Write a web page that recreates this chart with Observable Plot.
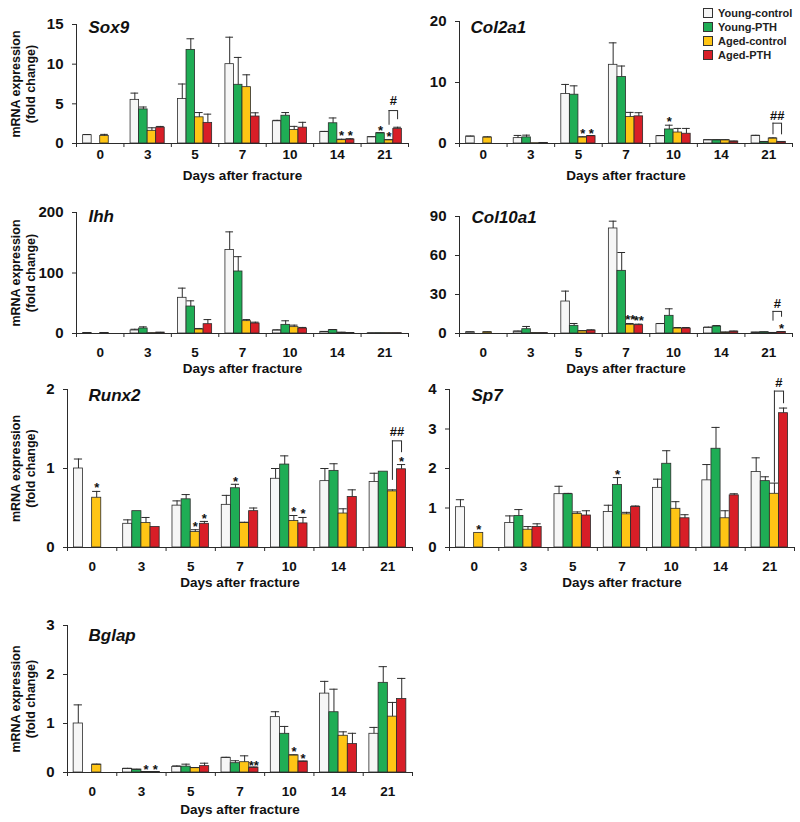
<!DOCTYPE html>
<html>
<head>
<meta charset="utf-8">
<script src="https://cdn.jsdelivr.net/npm/d3@7"></script>
<script src="https://cdn.jsdelivr.net/npm/@observablehq/plot@0.6"></script>
<style>
  body { margin: 0; background: #fff; }
  #root { position: relative; width: 800px; height: 822px; overflow: hidden; background: #fff;
          font-family: "Liberation Sans", Arial, sans-serif; }
  .panel { position: absolute; }
  .panel svg { max-width: none; background: transparent; overflow: visible; }
  #legend { position: absolute; left: 703px; top: 6px; font: bold 11px "Liberation Sans", Arial, sans-serif; color: #222; }
  #legend .row { display: flex; align-items: center; height: 14px; }
  #legend .sw { width: 8px; height: 8px; border: 1px solid #333; margin-right: 5px; box-sizing: content-box; }
</style>
</head>
<body>
<div id="root"><div id="legend"></div></div>
<script>
// ---------------- data ----------------
const days = ["0", "3", "5", "7", "10", "14", "21"];
const groups = ["Young-control", "Young-PTH", "Aged-control", "Aged-PTH"];
const groupColors = ["#f6f6f6", "#1fad55", "#ffc515", "#d81e27"];
const yLabelLines = ["mRNA expression", "(fold change)"];
const xTitle = "Days after fracture";

// rows: Young-control, Young-PTH, Aged-control, Aged-PTH ; columns: days
const sox9Mean = [
  [1.05, 5.5, 5.6, 10.0, 2.8, 1.47, 0.8],
  [null, 4.3, 11.8, 7.4, 3.5, 2.55, 1.3],
  [0.95, 1.6, 3.3, 7.1, 1.7, 0.42, 0.42],
  [null, 2.0, 2.6, 3.4, 2.0, 0.5, 1.85]];
const sox9Err = [
  [0.08, 0.85, 1.9, 3.4, 0.12, 0.05, 0.05],
  [0, 0.3, 1.4, 3.45, 0.4, 0.67, 0.05],
  [0.2, 0.38, 0.6, 1.56, 0.46, 0.12, 0.05],
  [0, 0.15, 1.1, 0.47, 0.67, 0.1, 0.2]];
const sox9Ticks = [0, 5, 10, 15];
const sox9Stars = [["14", "Aged-control", 1.42, "*"], ["14", "Aged-PTH", 1.42, "*"],
  ["21", "Young-PTH", 2.14, "*"], ["21", "Aged-control", 1.3, "*"]];
const sox9Brackets = [["21", "Aged-control", "Aged-PTH", 2.3, 3.0, 4.15, "#", 5.33]];

const col2a1Mean = [
  [1.15, 0.88, 8.13, 12.9, 1.2, 0.55, 1.26],
  [null, 1.0, 8.0, 10.9, 2.3, 0.55, 0.27],
  [0.99, 0.05, 1.0, 4.34, 1.8, 0.55, 0.82],
  [null, 0.1, 1.2, 4.45, 1.6, 0.33, 0.27]];
const col2a1Err = [
  [0.05, 0.44, 1.55, 3.6, 0.1, 0.05, 0.08],
  [0, 0.37, 1.45, 1.8, 0.7, 0.05, 0.03],
  [0.1, 0, 0.1, 0.76, 0.67, 0.05, 0.1],
  [0, 0, 0.1, 0.6, 0.87, 0.05, 0.03]];
const col2a1Ticks = [0, 10, 20];
const col2a1Stars = [["5", "Aged-control", 2.25, "*"], ["5", "Aged-PTH", 2.25, "*"],
  ["10", "Young-PTH", 4.2, "*"]];
const col2a1Brackets = [["21", "Aged-control", "Aged-PTH", 1.42, 1.42, 3.33, "##", 4.6]];

const ihhMean = [
  [1, 5, 59, 138, 5, 2.8, 0.5],
  [null, 8.3, 44.6, 102.5, 14.3, 5.5, 0.5],
  [1, 0.5, 6.6, 20.4, 10.5, 1.5, 0.5],
  [null, 1.5, 15.4, 16.5, 8.3, 0.8, 0.5]];
const ihhErr = [
  [0.3, 2, 16, 30, 1, 0.5, 0.2],
  [0, 2.7, 9.4, 24.5, 6.7, 1.1, 0.2],
  [0.3, 0.2, 1.7, 2.6, 3.3, 0.3, 0.2],
  [0, 0.3, 7.6, 2.2, 1.7, 0.3, 0.2]];
const ihhTicks = [0, 100, 200];
const ihhStars = [];
const ihhBrackets = [];

const col10a1Mean = [
  [1, 1.5, 24.6, 80.8, 7.2, 4.4, 0.8],
  [null, 3.3, 5.9, 48.2, 13.6, 5.4, 1.0],
  [1, 0.3, 1.8, 6.7, 3.8, 0.8, 0.5],
  [null, 0.3, 2.3, 6.4, 3.8, 1.5, 1.2]];
const col10a1Err = [
  [0.2, 0.3, 8, 5.6, 0.5, 0.5, 0.1],
  [0, 2.1, 1.8, 14.1, 5.4, 0.7, 0.1],
  [0.2, 0.1, 0.3, 1.0, 0.8, 0.2, 0.1],
  [0, 0.1, 0.5, 0.8, 0.8, 0.3, 0.2]];
const col10a1Ticks = [0, 30, 60, 90];
const col10a1Stars = [["7", "Aged-control", 13.8, "**"], ["7", "Aged-PTH", 13.0, "**"],
  ["21", "Aged-PTH", 7, "*"]];
const col10a1Brackets = [["21", "Aged-control", "Aged-PTH", 9.5, 12.5, 17, "#", 23]];

const runx2Mean = [
  [1.0, 0.3, 0.53, 0.54, 0.87, 0.84, 0.83],
  [null, 0.46, 0.61, 0.75, 1.05, 0.97, 0.96],
  [0.63, 0.31, 0.195, 0.31, 0.335, 0.43, 0.71],
  [null, 0.26, 0.3, 0.46, 0.305, 0.64, 0.99]];
const runx2Err = [
  [0.12, 0.05, 0.06, 0.12, 0.13, 0.16, 0.11],
  [0, 0, 0.06, 0.05, 0.11, 0.09, 0],
  [0.08, 0.07, 0.03, 0.01, 0.07, 0.06, 0.02],
  [0, 0, 0.03, 0.04, 0.075, 0.09, 0.06]];
const runx2Ticks = [0, 1, 2];
const runx2Stars = [["0", "Aged-control", 0.81, "*"], ["5", "Aged-control", 0.31, "*"],
  ["5", "Aged-PTH", 0.41, "*"], ["7", "Young-PTH", 0.88, "*"], ["10", "Aged-control", 0.5, "*"],
  ["10", "Aged-PTH", 0.48, "*"], ["21", "Aged-PTH", 1.14, "*"]];
const runx2Brackets = [["21", "Aged-control", "Aged-PTH", 0.85, 1.2, 1.35, "##", 1.47]];

const sp7Mean = [
  [1.02, 0.62, 1.35, 0.9, 1.51, 1.7, 1.91],
  [null, 0.8, 1.35, 1.58, 2.12, 2.5, 1.68],
  [0.37, 0.45, 0.85, 0.84, 0.98, 0.74, 1.36],
  [null, 0.52, 0.81, 1.03, 0.74, 1.32, 3.4]];
const sp7Err = [
  [0.19, 0.18, 0.2, 0.17, 0.22, 0.4, 0.36],
  [0, 0.16, 0.02, 0.19, 0.33, 0.54, 0.11],
  [0, 0.08, 0.05, 0.05, 0.18, 0.19, 0.27],
  [0, 0.08, 0.12, 0.02, 0.09, 0.04, 0.13]];
const sp7Ticks = [0, 1, 2, 3, 4];
const sp7Stars = [["0", "Aged-control", 0.56, "*"], ["7", "Young-PTH", 1.95, "*"]];
const sp7Brackets = [["21", "Aged-control", "Aged-PTH", 1.65, 3.64, 3.96, "#", 4.17]];

const bglapMean = [
  [1.0, 0.075, 0.115, 0.3, 1.13, 1.61, 0.79],
  [null, 0.06, 0.12, 0.19, 0.79, 1.23, 1.83],
  [0.16, 0.01, 0.09, 0.21, 0.35, 0.75, 1.14],
  [null, 0.01, 0.13, 0.1, 0.225, 0.58, 1.5]];
const bglapErr = [
  [0.38, 0.01, 0.02, 0.01, 0.11, 0.25, 0.13],
  [0, 0.005, 0.05, 0.05, 0.15, 0.47, 0.33],
  [0.01, 0, 0.01, 0.13, 0.01, 0.08, 0.29],
  [0, 0, 0.06, 0.01, 0.005, 0.22, 0.42]];
const bglapTicks = [0, 1, 2, 3];
const bglapStars = [["3", "Aged-control", 0.13, "*"], ["3", "Aged-PTH", 0.13, "*"],
  ["7", "Aged-PTH", 0.21, "**"], ["10", "Aged-control", 0.51, "*"], ["10", "Aged-PTH", 0.36, "*"]];
const bglapBrackets = [];

// ---------------- layout (pixels) ----------------
const panels = [
  {title: "Sox9", mean: sox9Mean, err: sox9Err, ticks: sox9Ticks, stars: sox9Stars, brackets: sox9Brackets, showY: true,
   L: {left: 0, top: 0, width: 420, height: 190, x0: 76, x1: 408, yTop: 24, y0: 143, lab: 154, xt: 175, tdx: 12, tdy: 3, frac: 0.72}},
  {title: "Col2a1", mean: col2a1Mean, err: col2a1Err, ticks: col2a1Ticks, stars: col2a1Stars, brackets: col2a1Brackets, showY: false,
   L: {left: 420, top: 0, width: 380, height: 190, x0: 459, x1: 792, yTop: 21, y0: 143, lab: 154, xt: 175, tdx: 11, tdy: 6, frac: 0.72}},
  {title: "Ihh", mean: ihhMean, err: ihhErr, ticks: ihhTicks, stars: ihhStars, brackets: ihhBrackets, showY: true,
   L: {left: 0, top: 190, width: 420, height: 185, x0: 76, x1: 408, yTop: 212, y0: 333, lab: 352, xt: 368, tdx: 12, tdy: 4, frac: 0.72}},
  {title: "Col10a1", mean: col10a1Mean, err: col10a1Err, ticks: col10a1Ticks, stars: col10a1Stars, brackets: col10a1Brackets, showY: false,
   L: {left: 420, top: 190, width: 380, height: 185, x0: 459, x1: 792, yTop: 216, y0: 333, lab: 352, xt: 368, tdx: 12, tdy: 1, frac: 0.72}},
  {title: "Runx2", mean: runx2Mean, err: runx2Err, ticks: runx2Ticks, stars: runx2Stars, brackets: runx2Brackets, showY: true,
   L: {left: 0, top: 375, width: 420, height: 222, x0: 67, x1: 412, yTop: 389, y0: 547, lab: 566, xt: 582, tdx: 21, tdy: 6, frac: 0.74}},
  {title: "Sp7", mean: sp7Mean, err: sp7Err, ticks: sp7Ticks, stars: sp7Stars, brackets: sp7Brackets, showY: false,
   L: {left: 420, top: 375, width: 380, height: 222, x0: 449, x1: 794, yTop: 389, y0: 547, lab: 566, xt: 582, tdx: 22, tdy: 6, frac: 0.74}},
  {title: "Bglap", mean: bglapMean, err: bglapErr, ticks: bglapTicks, stars: bglapStars, brackets: bglapBrackets, showY: true,
   L: {left: 0, top: 600, width: 420, height: 222, x0: 67, x1: 412, yTop: 625, y0: 772, lab: 791, xt: 809, tdx: 21, tdy: 10, frac: 0.75}}
];

const ink = "#2b2b2b";
const root = document.getElementById("root");

function drawPanel(p) {
  const L = p.L;
  const f = L.frac, slot = f / groups.length;
  const xStart = (di, gi) => di + (1 - f) / 2 + gi * slot;
  const cx = (di, gi) => xStart(di, gi) + slot / 2;
  const rows = [];
  p.mean.forEach((arr, gi) => arr.forEach((v, di) => {
    if (v != null) rows.push({di, gi, group: groups[gi], v, e: p.err[gi][di],
      x1: xStart(di, gi), x2: xStart(di, gi) + slot, cx: cx(di, gi)});
  }));
  const errRows = rows.filter(r => r.e > 0);
  const capHalf = slot * 0.45;
  const stars = p.stars.map(([day, g, y, text]) => ({x: cx(days.indexOf(day), groups.indexOf(g)), y, text}));
  const brk = p.brackets.map(([day, ga, gb, ya, yb, yt, label, yl]) => ({
    xa: cx(days.indexOf(day), groups.indexOf(ga)), xb: cx(days.indexOf(day), groups.indexOf(gb)),
    ya, yb, yt, label, yl}));
  const legs = brk.flatMap(b => [{x: b.xa, y1: b.ya, y2: b.yt}, {x: b.xb, y1: b.yb, y2: b.yt}]);
  const yMax = p.ticks[p.ticks.length - 1];
  const fsX = 13.5;
  const labPad = L.lab - L.y0 - 0.36 * fsX;

  const marks = [
    Plot.rect(rows, {x1: "x1", x2: "x2", y1: () => 0, y2: "v", fill: "group", stroke: ink, strokeWidth: 0.8}),
    Plot.ruleX(errRows, {x: "cx", y1: "v", y2: d => d.v + d.e, stroke: ink, strokeWidth: 1}),
    Plot.ruleY(errRows, {y: d => d.v + d.e, x1: d => d.cx - capHalf, x2: d => d.cx + capHalf, stroke: ink, strokeWidth: 1}),
    Plot.ruleY([0], {stroke: ink, strokeWidth: 1}),
    Plot.ruleX([0], {y1: 0, y2: yMax, stroke: ink, strokeWidth: 1}),
    Plot.axisY({ticks: p.ticks, tickSize: 4, tickPadding: 9, tickFormat: d3.format("d"), label: null,
      fontSize: 15, fontWeight: "bold", stroke: ink}),
    Plot.axisX({ticks: d3.range(days.length + 1), tickSize: 4, tickFormat: () => "", label: null, stroke: ink}),
    Plot.axisX({ticks: days.map((d, i) => i + 0.5), tickSize: 0, tickPadding: labPad,
      tickFormat: t => days[Math.floor(t)], label: null, fontSize: fsX, fontWeight: "bold"}),
    Plot.text([xTitle], {frameAnchor: "bottom", dy: L.xt - L.y0, lineAnchor: "middle", fontSize: fsX, fontWeight: "bold", fill: "#111"}),
    Plot.text([p.title], {frameAnchor: "top-left", dx: L.tdx, dy: L.tdy, textAnchor: "start", lineAnchor: "middle",
      fontSize: 17, fontWeight: "bold", fontStyle: "italic", fill: "#111"}),
    Plot.text(stars, {x: "x", y: "y", text: "text", fontSize: 13, fontWeight: "bold", dy: 4, fill: "#111"}),
    Plot.ruleX(legs, {x: "x", y1: "y1", y2: "y2", stroke: ink, strokeWidth: 1}),
    Plot.ruleY(brk, {y: "yt", x1: "xa", x2: "xb", stroke: ink, strokeWidth: 1}),
    Plot.text(brk, {x: d => (d.xa + d.xb) / 2, y: "yl", text: "label", fontSize: 13, fontWeight: "bold", lineAnchor: "middle", fill: "#111"})
  ];
  if (p.showY) {
    marks.push(Plot.text([yLabelLines[0]], {frameAnchor: "left", dx: 15 - L.x0 + L.left, rotate: -90,
      textAnchor: "middle", lineAnchor: "middle", fontSize: 12.5, fontWeight: "bold", fill: "#111"}));
    marks.push(Plot.text([yLabelLines[1]], {frameAnchor: "left", dx: 30 - L.x0 + L.left, rotate: -90,
      textAnchor: "middle", lineAnchor: "middle", fontSize: 12.5, fontWeight: "bold", fill: "#111"}));
  }

  const chart = Plot.plot({
    width: L.width, height: L.height,
    marginLeft: L.x0 - L.left, marginRight: L.left + L.width - L.x1,
    marginTop: L.yTop - L.top, marginBottom: L.top + L.height - L.y0,
    x: {type: "linear", domain: [0, days.length], axis: null},
    y: {type: "linear", domain: [0, yMax], axis: null},
    color: {domain: groups, range: groupColors},
    style: {fontFamily: '"Liberation Sans", Arial, sans-serif', fontSize: "15px", color: "#111", background: "transparent", overflow: "visible"},
    marks
  });
  const div = document.createElement("div");
  div.className = "panel";
  div.style.left = L.left + "px";
  div.style.top = L.top + "px";
  div.appendChild(chart);
  root.appendChild(div);
}

panels.forEach(drawPanel);

// legend
const legend = document.getElementById("legend");
groups.forEach((g, i) => {
  const row = document.createElement("div");
  row.className = "row";
  const sw = document.createElement("span");
  sw.className = "sw";
  sw.style.background = groupColors[i];
  const t = document.createElement("span");
  t.textContent = g;
  row.appendChild(sw); row.appendChild(t);
  legend.appendChild(row);
});
</script>
</body>
</html>
